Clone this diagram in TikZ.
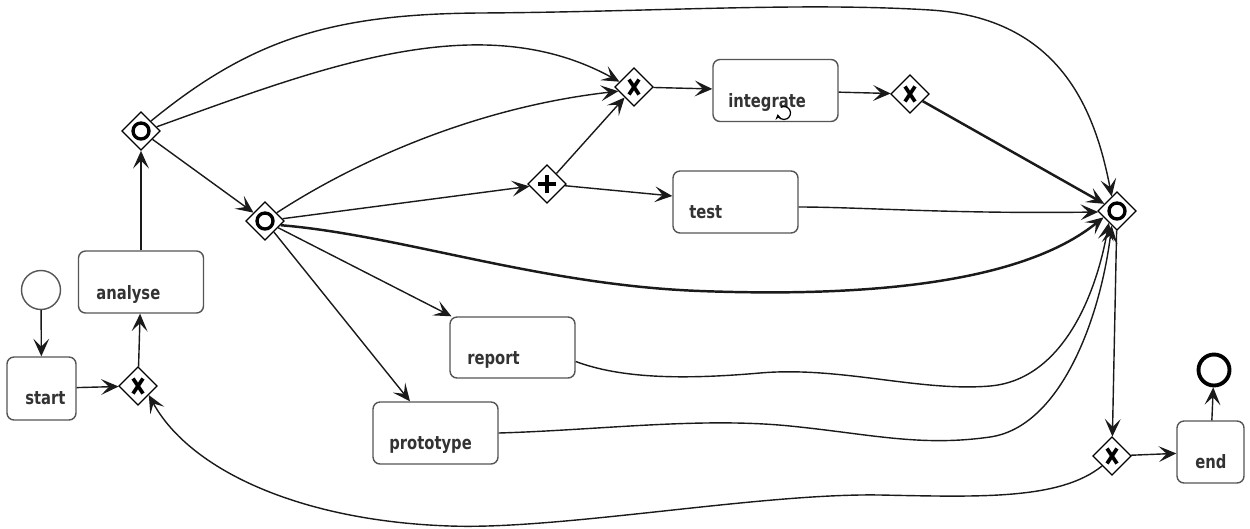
\documentclass[tikz,border=0pt]{standalone}
\usepackage{fontspec}
\newfontfamily\lblfont{DejaVu Sans}[FakeStretch=0.8]
\usetikzlibrary{shapes.geometric,arrows.meta}
\definecolor{boxgray}{HTML}{555555}
\definecolor{txtgray}{HTML}{333333}
\definecolor{edgecol}{HTML}{1a1a1a}
\begin{document}
\begin{tikzpicture}[x=0.02cm,y=-0.02cm,
  task/.style={draw=boxgray, line width=0.8pt, rounded corners=0.14cm, minimum width=2.5cm, minimum height=1.24cm, inner sep=0pt},
  lbl/.style={font=\lblfont\bfseries\fontsize{10.5}{12}\selectfont, text=txtgray, anchor=base west, inner sep=0pt},
  gw/.style={diamond, draw=black, fill=white, line width=0.7pt, minimum size=0.77cm, inner sep=0pt},
  xgw/.style={gw, path picture={\draw[line width=2.1pt]
     ([shift={(-0.1cm,-0.15cm)}]path picture bounding box.center) -- ([shift={(0.1cm,0.15cm)}]path picture bounding box.center)
     ([shift={(-0.1cm,0.15cm)}]path picture bounding box.center) -- ([shift={(0.1cm,-0.15cm)}]path picture bounding box.center);}},
  ogw/.style={gw, path picture={\draw[line width=1.9pt] (path picture bounding box.center) circle[radius=0.16cm];}},
  agw/.style={gw, path picture={\draw[line width=2.1pt]
     ([xshift=-0.18cm]path picture bounding box.center) -- ([xshift=0.18cm]path picture bounding box.center)
     ([yshift=-0.18cm]path picture bounding box.center) -- ([yshift=0.18cm]path picture bounding box.center);}},
  flow/.style={draw=edgecol, line width=0.8pt, -{Stealth[length=10pt,width=9pt,inset=4.5pt]}},
  thickflow/.style={flow, line width=1.4pt},
]
\fill[white] (0,0) rectangle (1250,528);
\useasboundingbox (0,0) rectangle (1250,528);

% events
\node[circle, draw=boxgray, line width=0.8pt, minimum size=0.78cm, inner sep=0pt] (sc) at (41,290) {};
\node[circle, draw=black, line width=2.2pt, minimum size=0.62cm, inner sep=0pt] (ec) at (1214,370) {};

% tasks
\node[task, minimum width=1.38cm, minimum height=1.26cm] (sb) at (41.5,388.5) {};
\node[task] (an) at (141,282) {};
\node[task] (in) at (775.5,90.5) {};
\node[task] (te) at (735.5,202) {};
\node[task, minimum height=1.22cm] (re) at (512.5,347.5) {};
\node[task] (pr) at (435.5,433) {};
\node[task, minimum width=1.34cm, minimum height=1.24cm] (eb) at (1210.5,452) {};

\node[lbl] (sb-l) at (25,404) {start};
\node[lbl] (an-l) at (96,299) {analyse};
\node[lbl] (in-l) at (728,107) {integrate};
\node[lbl] (te-l) at (689,218) {test};
\node[lbl] (re-l) at (467,364) {report};
\node[lbl] (pr-l) at (389,449) {prototype};
\node[lbl] (eb-l) at (1195,468) {end};

% loop marker
\draw[line width=0.7pt, -{Stealth[length=3pt,width=3.5pt]}] (784,113) ++(-120:6.5) arc[start angle=-120, end angle=170, radius=6.5];

% gateways
\node[xgw] (g1) at (138,386) {};
\node[ogw] (g2) at (141,131) {};
\node[ogw] (g3) at (265,221) {};
\node[xgw] (g4) at (634,87) {};
\node[agw] (g5) at (547,184) {};
\node[xgw] (g6) at (910,94) {};
\node[ogw] (g7) at (1117,211) {};
\node[xgw] (g8) at (1112,456) {};

% flows
\draw[flow] (sc) -- (sb);
\draw[flow] (sb) -- (g1);
\draw[flow] (g1) -- (an);
\draw[flow] (an) -- (g2);
\draw[flow] (g2) -- (g3);
\draw[flow] (g2.15) .. controls (320,68) and (480,5) .. (g4.160);
\draw[flow] (g2.45) .. controls (250,40) and (330,14) .. (480,13) .. controls (650,12) and (800,2) .. (930,10) .. controls (1060,18) and (1095,110) .. (g7.110);
\draw[flow] (g3.35) .. controls (350,165) and (470,108) .. (g4.195);
\draw[flow] (g3) -- (g5);
\draw[flow] (g5) -- (g4);
\draw[flow] (g5) -- (te);
\draw[thickflow] (g3.-15) .. controls (400,235) and (540,285) .. (700,291) .. controls (860,297) and (1020,285) .. (g7.205);
\draw[flow] (g3) -- (re);
\draw[flow] (g3) -- (pr);
\draw[flow] (g4) -- (in);
\draw[flow] (in) -- (g6);
\draw[thickflow] (g6) -- (g7);
\draw[flow] ([yshift=-0.1cm]te.east) .. controls (860,207) and (950,214) .. (g7.183);
\draw[flow] ([yshift=-0.28cm]re.east) .. controls (620,378) and (680,380) .. (760,373) .. controls (840,366) and (920,392) .. (990,386) .. controls (1060,380) and (1095,300) .. (g7.235);
\draw[flow] (pr.east) .. controls (600,430) and (700,417) .. (790,426) .. controls (870,434) and (920,447) .. (990,437) .. controls (1060,427) and (1100,320) .. (g7.250);
\draw[flow] (g7) -- (g8);
\draw[flow] (g8) -- (eb);
\draw[flow] (eb) -- (ec);
\draw[flow] (g8.225) .. controls (1060,500) and (980,497) .. (880,495) .. controls (760,493) and (560,530) .. (450,526) .. controls (300,521) and (190,470) .. (g1.-40);
\end{tikzpicture}
\end{document}
